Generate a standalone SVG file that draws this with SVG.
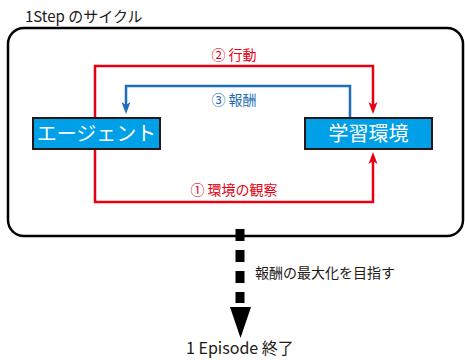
<svg xmlns="http://www.w3.org/2000/svg" width="465" height="360" viewBox="0 0 465 360">
<defs>
<style>
text{font-family:"Noto Sans CJK JP","Noto Sans",sans-serif}
.t{font-size:15px;fill:#231815}
.node{fill:#00a0e9;stroke:#231815;stroke-width:2}
.nt{font-size:20px;fill:#ffffff;text-anchor:middle}
.red{fill:none;stroke:#e60012;stroke-width:2.5}
.blue{fill:none;stroke:#1f6fb8;stroke-width:2.5}
.lr{font-size:14px;fill:#e60012;text-anchor:middle}
.lb{font-size:14px;fill:#1f6fb8;text-anchor:middle}
</style>
<marker id="ar" markerWidth="12" markerHeight="16" refX="8" refY="6" orient="auto" markerUnits="userSpaceOnUse" viewBox="0 0 16 12">
<path d="M0,0 L16,6 L0,12 L4,6 Z" fill="#e60012"/>
</marker>
<marker id="ab" markerWidth="12" markerHeight="16" refX="8" refY="6" orient="auto" markerUnits="userSpaceOnUse" viewBox="0 0 16 12">
<path d="M0,0 L16,6 L0,12 L4,6 Z" fill="#1f6fb8"/>
</marker>
</defs>
<rect width="465" height="360" fill="#ffffff"/>
<text class="t" x="25" y="22">1Step のサイクル</text>
<rect x="8" y="28" width="455" height="208" rx="16" ry="16" fill="#ffffff" stroke="#000000" stroke-width="2.5"/>
<g id="connectors">
<path class="red" d="M95,117 V66 H373 V108" marker-end="url(#ar)"/>
<path class="blue" d="M350,117 V86 H126 V108" marker-end="url(#ab)"/>
<path class="red" d="M95,149 V202 H373 V158" marker-end="url(#ar)"/>
<text class="lr" x="234" y="60">② 行動</text>
<text class="lb" x="234" y="105">③ 報酬</text>
<text class="lr" x="234" y="195">① 環境の観察</text>
<line x1="240" y1="229" x2="240" y2="303" stroke="#000000" stroke-width="9" stroke-dasharray="12 9"/>
<path d="M230,307 L251,307 L240.5,338 Z" fill="#000000"/>
<text class="t" x="255" y="278" style="font-size:14px">報酬の最大化を目指す</text>
<text class="t" x="186" y="354" style="font-size:16px">1 Episode 終了</text>
</g>
<g id="agent">
<rect class="node" x="33" y="118" width="127" height="31"/>
<text class="nt" x="96.5" y="141">エージェント</text>
</g>
<g id="env">
<rect class="node" x="305" y="118" width="127" height="31"/>
<text class="nt" x="368.5" y="141">学習環境</text>
</g>
</svg>
